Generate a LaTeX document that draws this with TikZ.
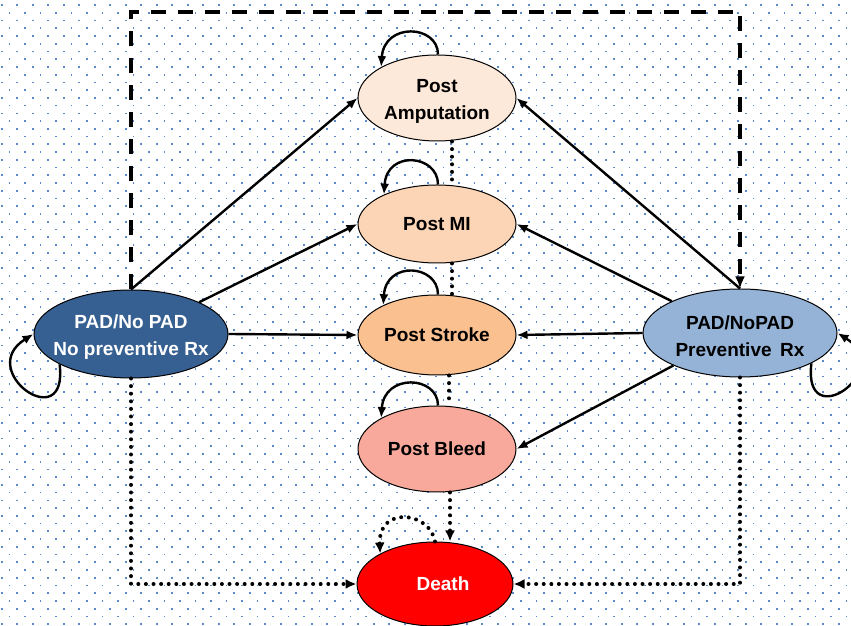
\documentclass[tikz,border=0pt]{standalone}
\usepackage{fontspec}
\setmainfont{Liberation Sans}
\usetikzlibrary{shapes.geometric,arrows.meta}
\definecolor{dotc}{HTML}{5A8AC8}
\definecolor{cL}{HTML}{376092}
\definecolor{cR}{HTML}{95B3D7}
\definecolor{cPA}{HTML}{FDE9D9}
\definecolor{cMI}{HTML}{FBD5B5}
\definecolor{cST}{HTML}{FAC090}
\definecolor{cBL}{HTML}{F8A99C}
\definecolor{cD}{HTML}{FF0000}
\begin{document}
\begin{tikzpicture}[x=1pt,y=1pt,
  st/.style={ellipse, draw=black, line width=1pt, inner sep=0pt},
  mid/.style={st, minimum width=158pt},
  lbl/.style={font=\fontsize{19}{27}\selectfont\bfseries, align=center, inner sep=0pt},
  lbltwo/.style={lbl, yshift=-3pt},
  arr/.style={line width=2.4pt, -{Latex[length=11pt,width=9pt]}},
  dotline/.style={line width=4pt, line cap=round, dash pattern=on 0pt off 7.6pt},
  dottip/.style={-{Latex[length=11pt,width=10pt]}},
  dashline/.style={line width=3.5pt, dash pattern=on 15pt off 12pt}]
\clip (0,0) rectangle (851,626);
% dotted background
\foreach \j in {0,...,80} {
  \pgfmathsetmacro\yy{621-\j*7.74}
  \pgfmathsetmacro\xo{mod(\j,2)*7.75+1.7}
  \foreach \i in {0,...,55} {
    \fill[dotc] (\xo+\i*15.5-0.85,\yy-0.85) rectangle ++(1.7,1.7);
  }
}
% nodes
\node[mid, fill=cPA, minimum height=86pt, label={[lbltwo]center:Post\\Amputation}] (pa) at (437,528) {};
\node[mid, fill=cMI, minimum height=78pt, label={[lbl]center:Post MI}] (pmi) at (437,402) {};
\node[mid, fill=cST, minimum height=80pt, label={[lbl]center:Post Stroke}] (pst) at (437,291) {};
\node[mid, fill=cBL, minimum height=86pt, label={[lbl]center:Post Bleed}] (pbl) at (437,177) {};
\node[st, fill=cD, minimum width=156pt, minimum height=84pt, label={[lbl,text=white,xshift=8pt]center:Death}] (death) at (435,42) {};
\node[st, fill=cL, minimum width=194pt, minimum height=88pt, label={[lbltwo,text=white]center:PAD/No PAD\\No preventive Rx}] (L) at (131,292) {};
\node[st, fill=cR, minimum width=194pt, minimum height=88pt, label={[lbltwo]center:PAD/NoPAD\\Preventive\hspace{0.45em}Rx}] (R) at (740,293) {};
% dashed top connector
\coordinate (tl) at (131,614);
\coordinate (tr) at (740,614);
\draw[dashline, -{Latex[length=12pt,width=10pt]}] (L.north) -- (tl) -- (tr) -- (R.north);
% solid arrows
\draw[arr] (L.north) -- (pa.west);
\draw[arr] (L.25) -- (pmi.west);
\draw[arr] (L.east) -- (pst.west);
\draw[arr] (R.north) -- (pa.east);
\draw[arr] (R.155) -- (pmi.east);
\draw[arr] (R.west) -- (pst.east);
\draw[arr] (R.206) -- (pbl.east);
% self loops
\foreach \n in {pa,pmi,pst,pbl}
  \draw[arr] ([xshift=1pt]\n.north) .. controls +(0,30) and +(3,45) .. (\n.151);
\draw[arr] (L.203) .. controls +(9,-73) and +(-59,-37) .. (L.west);
\draw[arr] (R.337) .. controls +(-9,-73) and +(59,-37) .. (R.east);
% dotted connectors
\draw[dotline] ([xshift=15pt]pa.south) -- ([xshift=15pt]pmi.north);
\draw[dotline] ([xshift=15pt]pmi.south) -- ([xshift=15pt]pst.north);
\draw[dotline] ([xshift=12pt]pst.south) -- ([xshift=12pt]pbl.north);
\draw[dotline, dottip] ([xshift=13pt]pbl.south) -- ([xshift=15pt]death.north);
\draw[dotline, dottip] (L.south) |- (death.west);
\draw[dotline, dottip] (R.south) |- (death.east);
\draw[dotline, dottip] (death.north) .. controls +(-5,30) and +(-2,48) .. (death.151);
\end{tikzpicture}
\end{document}
